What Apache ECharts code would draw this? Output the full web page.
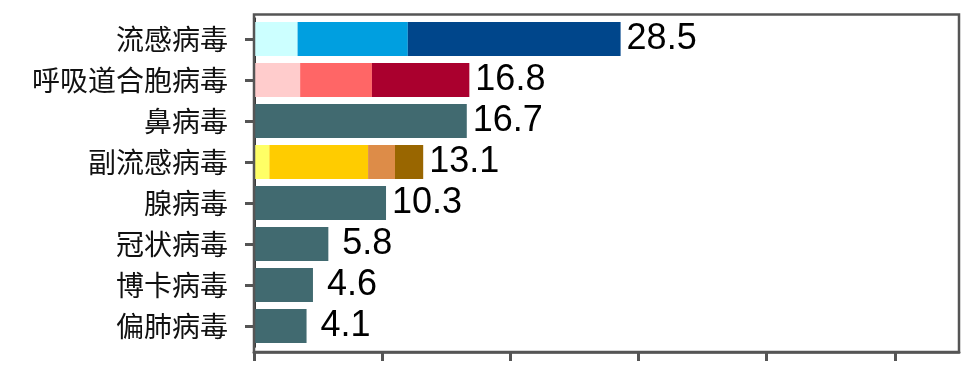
<!DOCTYPE html>
<html><head><meta charset="utf-8">
<script src="https://cdn.jsdelivr.net/npm/echarts@6/dist/echarts.min.js"></script>
<style>html,body{margin:0;padding:0;background:#fff}#c{width:977px;height:366px}</style>
</head><body><div id="c"></div>
<script>
const categories = ['流感病毒','呼吸道合胞病毒','鼻病毒','副流感病毒','腺病毒','冠状病毒','博卡病毒','偏肺病毒'];
const totals = [28.5, 16.8, 16.7, 13.1, 10.3, 5.8, 4.6, 4.1];
const seg1 = [3.4, 3.6, 16.6, 1.2, 10.3, 5.8, 4.6, 4.1];
const seg2 = [8.6, 5.6, 0, 7.7, 0, 0, 0, 0];
const seg3 = [16.6, 7.6, 0, 2.1, 0, 0, 0, 0];
const seg4 = [0, 0, 0, 2.2, 0, 0, 0, 0];
const xTicks = [0, 10, 20, 30, 40, 50];

const teal = '#416A70';
const colors = [
  ['#CCFFFF', '#009FE0', '#00468B', null],
  ['#FFCCCC', '#FF6666', '#AA002E', null],
  [teal, null, null, null],
  ['#FFFF66', '#FFCC00', '#DD8C48', '#996600'],
  [teal, null, null, null],
  [teal, null, null, null],
  [teal, null, null, null],
  [teal, null, null, null]
];
const segs = [seg1, seg2, seg3, seg4];

function lastIdx(i) {
  let k = 0;
  segs.forEach((s, j) => { if (s[i] > 0) k = j; });
  return k;
}

const series = segs.map((s, j) => ({
  type: 'bar',
  stack: 'total',
  barWidth: 34,
  data: s.map((v, i) => {
    const item = { value: v, itemStyle: { color: colors[i][j] || teal } };
    if (lastIdx(i) === j) {
      item.label = {
        show: true, position: 'right',
        distance: totals[i] < 10 ? 14 : 6,
        formatter: () => totals[i].toFixed(1),
        fontFamily: 'Liberation Sans, Arial, sans-serif',
        fontSize: 36, color: '#000'
      };
    }
    return item;
  })
}));

const chart = echarts.init(document.getElementById('c'), null, { renderer: 'canvas' });
chart.setOption({
  animation: false,
  grid: { left: 254, right: 18, top: 18.5, height: 328, containLabel: false },
  xAxis: {
    type: 'value', min: 0, max: 55, interval: 10,
    offset: 5.5,
    axisLine: { show: true, lineStyle: { color: '#777', width: 3 } },
    axisTick: { show: true, length: 9, lineStyle: { color: '#555', width: 3 }, customValues: xTicks },
    axisLabel: { show: false },
    splitLine: { show: false }
  },
  yAxis: {
    type: 'category', data: categories, inverse: true,
    axisLine: { show: true, lineStyle: { color: '#333', width: 3 } },
    axisTick: { show: true, alignWithLabel: true, length: 9, lineStyle: { color: '#555', width: 3 } },
    axisLabel: { margin: 26, fontSize: 28, color: '#111', fontFamily: 'Noto Sans CJK SC, sans-serif' }
  },
  graphic: [{
    type: 'rect', silent: true, z: 10,
    shape: { x: 254, y: 14.5, width: 705, height: 337.5 },
    style: { fill: 'none', stroke: '#555', lineWidth: 2.5 }
  }],
  series: series
});
</script></body></html>
